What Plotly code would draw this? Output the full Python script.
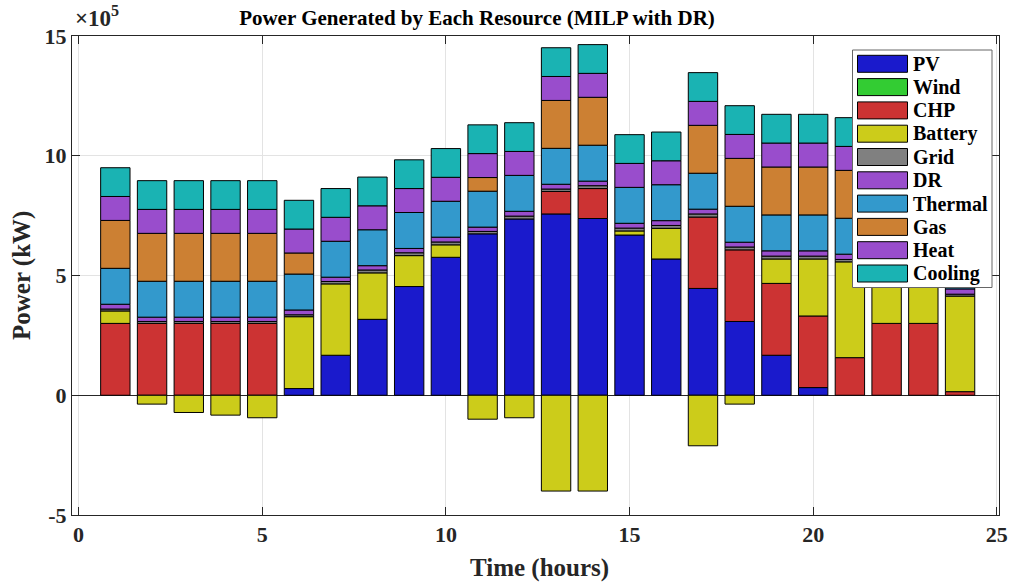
import plotly.graph_objects as go

# Hourly dispatch of each resource (kW)
hours = list(range(1, 25))

pv = [0, 0, 0, 0, 0, 28000, 167000, 317000, 454000, 576000, 674000, 736000,
      757000, 738000, 669000, 569000, 446000, 308000, 167000, 32000, 0, 0, 0, 0]
wind = [0] * 24
chp = [300000, 300000, 300000, 300000, 300000, 0, 0, 0, 0, 0, 0, 0,
       94000, 125000, 0, 0, 298000, 299000, 300000, 299000, 157000, 300000, 300000, 15000]
battery = [52000, -37000, -72000, -83000, -94000, 300000, 298000, 194000, 129000, 52000, -100000, -94000,
           -400000, -400000, 17000, 128000, -211000, -37000, 102000, 238000, 400000, 220000, 220000, 399000]
grid = [8000, 8000, 8000, 8000, 8000, 8000, 10000, 12000, 12000, 12000, 10000, 12000,
        10000, 12000, 12000, 12000, 13000, 12000, 12000, 12000, 10000, 8000, 8000, 8000]
dr = [20000, 18000, 18000, 18000, 18000, 20000, 18000, 18000, 18000, 20000, 18000, 20000,
      20000, 19000, 20000, 20000, 20000, 20000, 22000, 22000, 22000, 20000, 20000, 22000]
thermal = [150000] * 24
gas = [200000, 200000, 200000, 200000, 200000, 88000, 0, 0, 0, 0, 57000, 0,
       200000, 200000, 0, 0, 200000, 200000, 200000, 200000, 200000, 200000, 200000, 200000]
heat = [100000] * 24
cooling = [120000] * 24

series_names = ["PV", "Wind", "CHP", "Battery", "Grid", "DR", "Thermal", "Gas", "Heat", "Cooling"]
series_values = [pv, wind, chp, battery, grid, dr, thermal, gas, heat, cooling]
series_colors = ["#1a1acc", "#33cc33", "#cc3333", "#cccc1a", "#808080",
                 "#994dcc", "#3399cc", "#cc8033", "#994dcc", "#1ab3b3"]

y_tickvals = [-500000, 0, 500000, 1000000, 1500000]
y_ticktext = ["-5", "0", "5", "10", "15"]
x_tickvals = [0, 5, 10, 15, 20, 25]

FONT = "Liberation Serif"
INK = "#262626"

fig = go.Figure()
for name, vals, color in zip(series_names, series_values, series_colors):
    fig.add_trace(go.Bar(
        x=hours,
        y=[v if v != 0 else None for v in vals],
        name=name,
        width=0.8,
        marker=dict(color=color, line=dict(color="black", width=1)),
        showlegend=False,
    ))

# Plot-area geometry in pixels (used for the hand-drawn legend box)
W_FIG, H_FIG = 1013, 587
L, R, T, B = 72, 999, 36, 515


def px(x):
    return (x - L) / (R - L)


def py(y):
    return (B - y) / (B - T)


shapes = []
annotations = []

# Legend frame with swatches and labels
shapes.append(dict(type="rect", xref="paper", yref="paper",
                   x0=px(852.5), x1=px(992), y0=py(287.5), y1=py(50),
                   fillcolor="white", line=dict(color="#666666", width=1), layer="above"))
for i, (name, color) in enumerate(zip(series_names, series_colors)):
    yc = 63.8 + 23.3 * i
    shapes.append(dict(type="rect", xref="paper", yref="paper",
                       x0=px(857.5), x1=px(907.5), y0=py(yc + 8.5), y1=py(yc - 8.5),
                       fillcolor=color, line=dict(color="black", width=1), layer="above"))
    annotations.append(dict(xref="paper", yref="paper", x=px(911), y=py(yc),
                            xanchor="left", yanchor="middle", showarrow=False,
                            text=f"<b>{name}</b>", font=dict(family=FONT, size=20, color="black")))

# Axis titles and exponent marker
annotations.append(dict(xref="paper", yref="paper", x=px(539), y=py(568),
                        xanchor="center", yanchor="middle", showarrow=False,
                        text="<b>Time (hours)</b>", font=dict(family=FONT, size=25, color=INK)))
annotations.append(dict(xref="paper", yref="paper", x=px(22), y=py(276),
                        xanchor="center", yanchor="middle", showarrow=False, textangle=-90,
                        text="<b>Power (kW)</b>", font=dict(family=FONT, size=25, color=INK)))
annotations.append(dict(xref="paper", yref="paper", x=px(73), y=py(33),
                        xanchor="left", yanchor="bottom", showarrow=False,
                        text="<b>×10<sup>5</sup></b>", font=dict(family=FONT, size=23, color=INK)))

fig.update_layout(
    width=W_FIG, height=H_FIG,
    margin=dict(l=L, r=W_FIG - R, t=T, b=H_FIG - B, autoexpand=False),
    barmode="relative",
    plot_bgcolor="white",
    paper_bgcolor="white",
    title=dict(text="<b>Power Generated by Each Resource (MILP with DR)</b>",
               x=477 / W_FIG, xref="container", xanchor="center",
               y=1 - 18 / H_FIG, yref="container", yanchor="middle",
               font=dict(family=FONT, size=21, color="black")),
    xaxis=dict(range=[-0.18, 25.06], tickvals=x_tickvals,
               ticktext=[f"<b>{v}</b>" for v in x_tickvals],
               ticks="inside", ticklen=8, tickcolor=INK, automargin=False,
               showline=True, linecolor=INK, linewidth=1, mirror="ticks",
               showgrid=True, gridcolor="#e3e3e3", zeroline=False,
               tickfont=dict(family=FONT, size=22, color=INK)),
    yaxis=dict(range=[-500000, 1500000], tickvals=y_tickvals,
               ticktext=[f"<b>{t}</b>" for t in y_ticktext],
               ticks="inside", ticklen=8, tickcolor=INK, automargin=False,
               showline=True, linecolor=INK, linewidth=1, mirror="ticks",
               showgrid=True, gridcolor="#e3e3e3",
               zeroline=True, zerolinecolor=INK, zerolinewidth=1,
               tickfont=dict(family=FONT, size=22, color=INK)),
    shapes=shapes,
    annotations=annotations,
)

fig.write_html("out.html")
